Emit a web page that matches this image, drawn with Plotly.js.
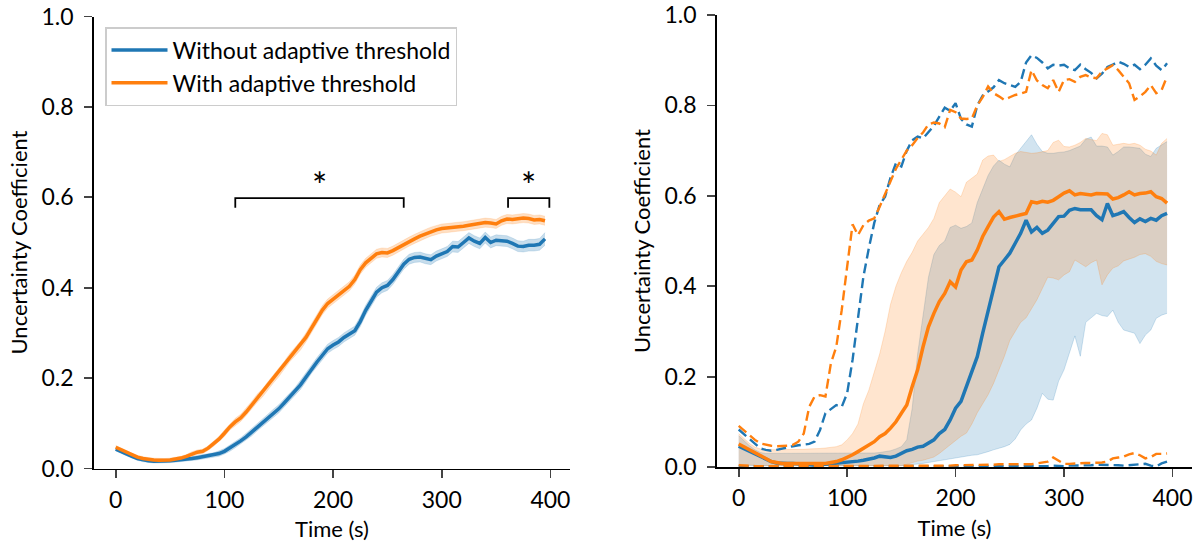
<!DOCTYPE html>
<html>
<head>
<meta charset="utf-8">
<script src="https://cdn.plot.ly/plotly-3.0.1.min.js"></script>
<style>html,body{margin:0;padding:0;background:#fff;}#chart{width:1199px;height:546px;}</style>
</head>
<body>
<div id="chart"></div>
<script>
// ---------- time grid (s) ----------
const time = [0,5,10,15,20,25,30,35,40,45,50,55,60,65,70,75,80,85,90,95,
  100,105,110,115,120,125,130,135,140,145,150,155,160,165,170,175,180,185,190,195,
  200,205,210,215,220,225,230,235,240,245,250,255,260,265,270,275,280,285,290,295,
  300,305,310,315,320,325,330,335,340,345,350,355,360,365,370,375,380,385,390,395];

// ---------- left panel: mean +/- SEM ----------
const leftWithout = [0.043,0.037,0.032,0.027,0.022,0.019,0.017,0.016,0.016,0.016,
  0.017,0.018,0.019,0.021,0.022,0.024,0.026,0.028,0.030,0.033,
  0.038,0.045,0.053,0.061,0.070,0.080,0.091,0.101,0.111,0.122,
  0.132,0.145,0.158,0.170,0.185,0.202,0.220,0.235,0.250,0.265,
  0.273,0.280,0.290,0.298,0.305,0.325,0.350,0.370,0.390,0.400,
  0.405,0.418,0.435,0.452,0.463,0.467,0.468,0.464,0.462,0.470,
  0.475,0.480,0.491,0.490,0.500,0.510,0.503,0.498,0.511,0.500,
  0.505,0.504,0.503,0.498,0.492,0.491,0.494,0.494,0.496,0.508];
const leftWith = [0.047,0.041,0.035,0.030,0.025,0.022,0.020,0.019,0.018,0.018,
  0.019,0.021,0.023,0.027,0.032,0.036,0.038,0.045,0.055,0.065,
  0.078,0.092,0.103,0.112,0.125,0.140,0.155,0.167,0.183,0.198,
  0.212,0.228,0.245,0.258,0.272,0.290,0.310,0.330,0.350,0.365,
  0.375,0.384,0.393,0.403,0.418,0.440,0.455,0.465,0.475,0.478,
  0.477,0.482,0.489,0.495,0.502,0.508,0.514,0.519,0.524,0.528,
  0.531,0.532,0.534,0.535,0.536,0.538,0.540,0.541,0.544,0.543,
  0.541,0.548,0.552,0.551,0.553,0.554,0.553,0.550,0.551,0.548];
const leftWithoutSem = [0.004,0.004,0.004,0.004,0.004,0.004,0.004,0.004,0.004,0.004,
  0.004,0.004,0.004,0.004,0.004,0.005,0.005,0.005,0.005,0.006,
  0.006,0.007,0.007,0.007,0.008,0.008,0.008,0.008,0.009,0.009,
  0.009,0.009,0.009,0.009,0.010,0.010,0.010,0.010,0.010,0.010,
  0.010,0.010,0.010,0.010,0.010,0.011,0.011,0.011,0.011,0.011,
  0.011,0.011,0.011,0.011,0.011,0.011,0.011,0.011,0.011,0.011,
  0.011,0.011,0.012,0.012,0.012,0.012,0.012,0.012,0.012,0.012,
  0.012,0.012,0.012,0.012,0.012,0.012,0.013,0.013,0.013,0.014];
const leftWithSem = [0.004,0.004,0.004,0.004,0.004,0.004,0.004,0.004,0.004,0.004,
  0.004,0.004,0.004,0.004,0.005,0.005,0.005,0.005,0.006,0.006,
  0.007,0.007,0.008,0.008,0.008,0.008,0.009,0.009,0.009,0.009,
  0.009,0.009,0.009,0.009,0.010,0.010,0.010,0.010,0.010,0.010,
  0.010,0.010,0.010,0.010,0.010,0.010,0.010,0.010,0.010,0.010,
  0.010,0.010,0.010,0.010,0.010,0.010,0.010,0.010,0.010,0.010,
  0.010,0.010,0.010,0.010,0.010,0.010,0.010,0.010,0.010,0.010,
  0.010,0.010,0.010,0.010,0.010,0.010,0.010,0.010,0.010,0.010];

// ---------- right panel ----------
const rWithoutMean = [0.046,0.040,0.034,0.028,0.023,0.017,0.012,0.009,0.008,0.008,
  0.008,0.007,0.006,0.005,0.004,0.005,0.006,0.007,0.008,0.009,
  0.010,0.012,0.013,0.015,0.017,0.020,0.024,0.023,0.021,0.024,
  0.030,0.036,0.039,0.044,0.046,0.052,0.060,0.074,0.083,0.104,
  0.130,0.145,0.178,0.207,0.244,0.296,0.347,0.399,0.443,0.458,
  0.473,0.495,0.517,0.546,0.520,0.530,0.517,0.524,0.540,0.554,
  0.555,0.568,0.572,0.569,0.569,0.569,0.556,0.547,0.583,0.556,
  0.560,0.565,0.552,0.541,0.549,0.543,0.550,0.546,0.556,0.561];
const rWithMean = [0.051,0.045,0.038,0.033,0.027,0.019,0.012,0.009,0.008,0.008,
  0.008,0.007,0.007,0.007,0.008,0.008,0.008,0.010,0.012,0.016,
  0.021,0.027,0.034,0.041,0.049,0.056,0.067,0.074,0.086,0.100,
  0.119,0.137,0.178,0.215,0.266,0.310,0.340,0.366,0.384,0.410,
  0.398,0.436,0.454,0.458,0.480,0.510,0.532,0.553,0.565,0.548,
  0.552,0.556,0.558,0.561,0.587,0.584,0.588,0.586,0.590,0.598,
  0.606,0.611,0.602,0.605,0.604,0.602,0.605,0.605,0.604,0.593,
  0.596,0.602,0.609,0.602,0.605,0.606,0.609,0.598,0.594,0.584];
const rWithoutHigh = [0.069,0.057,0.047,0.038,0.032,0.030,0.030,0.030,0.030,0.030,
  0.030,0.030,0.030,0.030,0.030,0.030,0.030,0.030,0.031,0.031,
  0.031,0.031,0.031,0.031,0.031,0.031,0.032,0.034,0.036,0.040,
  0.045,0.060,0.130,0.250,0.340,0.420,0.470,0.490,0.500,0.530,
  0.535,0.528,0.532,0.540,0.585,0.615,0.645,0.666,0.679,0.670,
  0.664,0.690,0.705,0.720,0.735,0.714,0.698,0.694,0.694,0.696,
  0.697,0.700,0.705,0.710,0.725,0.730,0.710,0.710,0.708,0.690,
  0.698,0.708,0.708,0.706,0.705,0.692,0.687,0.705,0.712,0.720];
const rWithoutLow = [0.003,0.003,0.002,0.002,0.002,0.002,0.002,0.002,0.002,0.002,
  0.002,0.002,0.002,0.002,0.002,0.002,0.002,0.002,0.002,0.002,
  0.002,0.002,0.002,0.002,0.002,0.002,0.002,0.002,0.002,0.002,
  0.003,0.004,0.005,0.006,0.008,0.010,0.012,0.014,0.016,0.019,
  0.020,0.022,0.024,0.026,0.027,0.030,0.034,0.038,0.041,0.045,
  0.050,0.062,0.082,0.095,0.104,0.130,0.163,0.150,0.148,0.190,
  0.215,0.250,0.290,0.245,0.320,0.330,0.340,0.335,0.333,0.347,
  0.320,0.303,0.300,0.296,0.273,0.292,0.303,0.329,0.336,0.340];
const rWithHigh = [0.074,0.062,0.052,0.044,0.040,0.038,0.038,0.038,0.038,0.038,
  0.038,0.039,0.039,0.040,0.040,0.041,0.042,0.043,0.045,0.049,
  0.060,0.074,0.095,0.140,0.170,0.210,0.250,0.300,0.360,0.400,
  0.430,0.455,0.475,0.500,0.515,0.530,0.550,0.585,0.600,0.615,
  0.608,0.598,0.630,0.640,0.648,0.679,0.688,0.690,0.676,0.680,
  0.687,0.694,0.698,0.696,0.694,0.695,0.698,0.700,0.718,0.723,
  0.709,0.708,0.712,0.718,0.727,0.725,0.722,0.738,0.735,0.712,
  0.714,0.716,0.714,0.716,0.712,0.703,0.699,0.690,0.716,0.727];
const rWithLow = [0.006,0.005,0.004,0.003,0.003,0.003,0.003,0.003,0.003,0.003,
  0.003,0.003,0.003,0.003,0.003,0.003,0.003,0.003,0.003,0.003,
  0.003,0.003,0.003,0.003,0.003,0.003,0.003,0.003,0.003,0.003,
  0.003,0.006,0.010,0.013,0.015,0.018,0.022,0.030,0.040,0.050,
  0.060,0.068,0.075,0.095,0.120,0.140,0.160,0.185,0.215,0.245,
  0.280,0.300,0.320,0.330,0.350,0.370,0.395,0.420,0.418,0.414,
  0.425,0.432,0.458,0.450,0.443,0.452,0.458,0.403,0.425,0.440,
  0.445,0.456,0.460,0.464,0.470,0.472,0.466,0.455,0.450,0.447];
const rWithoutMax = [0.083,0.073,0.063,0.052,0.041,0.038,0.036,0.038,0.041,0.043,
  0.046,0.048,0.049,0.051,0.056,0.082,0.119,0.128,0.137,0.133,
  0.163,0.237,0.333,0.421,0.484,0.540,0.580,0.598,0.640,0.672,
  0.665,0.700,0.723,0.731,0.727,0.740,0.755,0.775,0.795,0.788,
  0.805,0.770,0.758,0.753,0.800,0.822,0.832,0.840,0.856,0.849,
  0.845,0.841,0.852,0.895,0.911,0.905,0.895,0.882,0.890,0.888,
  0.890,0.882,0.878,0.890,0.880,0.872,0.860,0.870,0.885,0.890,
  0.897,0.892,0.885,0.890,0.880,0.890,0.904,0.888,0.878,0.893];
const rWithMax = [0.091,0.080,0.071,0.060,0.052,0.049,0.047,0.046,0.046,0.047,
  0.049,0.056,0.074,0.133,0.156,0.159,0.156,0.229,0.266,0.347,
  0.443,0.537,0.513,0.535,0.545,0.550,0.576,0.605,0.630,0.660,
  0.680,0.700,0.712,0.728,0.740,0.758,0.762,0.760,0.752,0.790,
  0.785,0.771,0.770,0.771,0.800,0.818,0.842,0.827,0.820,0.812,
  0.818,0.823,0.826,0.830,0.878,0.855,0.845,0.838,0.856,0.830,
  0.856,0.858,0.852,0.863,0.867,0.862,0.860,0.875,0.882,0.889,
  0.878,0.864,0.849,0.812,0.820,0.830,0.845,0.827,0.834,0.864];
const rWithoutMin = [0.002,0.002,0.002,0.002,0.001,0.001,0.001,0.001,0.001,0.001,
  0.001,0.001,0.001,0.001,0.001,0.001,0.001,0.001,0.001,0.001,
  0.001,0.001,0.001,0.001,0.001,0.001,0.001,0.001,0.001,0.001,
  0.001,0.001,0.001,0.001,0.001,0.001,0.001,0.001,0.001,0.001,
  0.001,0.001,0.001,0.001,0.001,0.001,0.001,0.001,0.001,0.001,
  0.001,0.001,0.001,0.001,0.001,0.002,0.002,0.002,0.003,0.002,
  0.002,0.003,0.003,0.003,0.003,0.004,0.005,0.005,0.004,0.005,
  0.004,0.003,0.004,0.005,0.005,0.007,0.003,0.001,0.008,0.012];
const rWithMin = [0.004,0.003,0.003,0.002,0.002,0.002,0.002,0.002,0.002,0.002,
  0.002,0.002,0.002,0.002,0.002,0.002,0.002,0.002,0.002,0.002,
  0.002,0.002,0.002,0.002,0.002,0.002,0.002,0.002,0.002,0.002,
  0.002,0.002,0.002,0.002,0.002,0.002,0.002,0.003,0.003,0.003,
  0.004,0.004,0.004,0.004,0.004,0.005,0.005,0.005,0.006,0.006,
  0.006,0.006,0.006,0.006,0.006,0.008,0.010,0.012,0.021,0.013,
  0.007,0.007,0.008,0.009,0.009,0.009,0.009,0.010,0.012,0.019,
  0.021,0.023,0.028,0.031,0.026,0.019,0.022,0.029,0.029,0.030];

// ---------- labels ----------
const seriesNames = ['Without adaptive threshold', 'With adaptive threshold'];
const xTicks = [0, 100, 200, 300, 400];
const yTicks = [0, 0.2, 0.4, 0.6, 0.8, 1.0];
const axisTitleX = 'Time (s)';
const axisTitleY = 'Uncertainty Coefficient';
const sigBrackets = [[110, 265], [361, 399]];

// ---------- styles ----------
const BLUE = '#1f77b4', ORANGE = '#ff7f0e';
const BLUE_F = 'rgba(31,119,180,0.2)', ORANGE_F = 'rgba(255,127,14,0.2)';
const FONT = 'Lato, "Noto Sans", sans-serif';

function add(a, b, s) { return a.map((v, i) => v + s * b[i]); }

const traces = [];
function band(x, hi, lo, fill, line, xa, ya) {
  traces.push({x: x, y: hi, xaxis: xa, yaxis: ya, mode: 'lines', line: {color: line, width: 1}, showlegend: false, hoverinfo: 'skip'});
  traces.push({x: x, y: lo, xaxis: xa, yaxis: ya, mode: 'lines', line: {color: line, width: 1}, fill: 'tonexty', fillcolor: fill, showlegend: false, hoverinfo: 'skip'});
}

// Left panel
band(time, add(leftWithout, leftWithoutSem, 1), add(leftWithout, leftWithoutSem, -1), 'rgba(31,119,180,0.25)', 'rgba(31,119,180,0.15)', 'x', 'y');
band(time, add(leftWith, leftWithSem, 1), add(leftWith, leftWithSem, -1), 'rgba(255,127,14,0.25)', 'rgba(255,127,14,0.15)', 'x', 'y');
traces.push({x: time, y: leftWithout, xaxis: 'x', yaxis: 'y', mode: 'lines', name: seriesNames[0], legendgroup: 'a', line: {color: BLUE, width: 3.5}});
traces.push({x: time, y: leftWith, xaxis: 'x', yaxis: 'y', mode: 'lines', name: seriesNames[1], legendgroup: 'b', line: {color: ORANGE, width: 3.5}});

// Right panel
band(time, rWithoutHigh, rWithoutLow, BLUE_F, 'rgba(31,119,180,0.2)', 'x2', 'y2');
band(time, rWithHigh, rWithLow, ORANGE_F, 'rgba(255,127,14,0.2)', 'x2', 'y2');
traces.push({x: time, y: rWithoutMean, xaxis: 'x2', yaxis: 'y2', mode: 'lines', showlegend: false, line: {color: BLUE, width: 3.5}});
traces.push({x: time, y: rWithMean, xaxis: 'x2', yaxis: 'y2', mode: 'lines', showlegend: false, line: {color: ORANGE, width: 3.5}});
traces.push({x: time, y: rWithoutMax, xaxis: 'x2', yaxis: 'y2', mode: 'lines', showlegend: false, line: {color: BLUE, width: 2.4, dash: '10px,5px'}});
traces.push({x: time, y: rWithMax, xaxis: 'x2', yaxis: 'y2', mode: 'lines', showlegend: false, line: {color: ORANGE, width: 2.4, dash: '10px,5px'}});
traces.push({x: time, y: rWithoutMin, xaxis: 'x2', yaxis: 'y2', mode: 'lines', showlegend: false, line: {color: BLUE, width: 2.4, dash: '10px,5px'}});
traces.push({x: time, y: rWithMin, xaxis: 'x2', yaxis: 'y2', mode: 'lines', showlegend: false, line: {color: ORANGE, width: 2.4, dash: '10px,5px'}});

const axisX = {
  range: [-20, 418], tickvals: xTicks, ticks: 'outside', ticklen: 8, tickwidth: 1.8,
  showline: true, linewidth: 1.8, linecolor: '#000', showgrid: false, zeroline: false,
  tickfont: {family: FONT, size: 23, color: '#000'}, ticklabelstandoff: 2,
  title: {text: axisTitleX, font: {family: FONT, size: 22, color: '#000'}, standoff: 10}
};
const axisY = {
  range: [0, 1], tickvals: yTicks, tickformat: '.1f', ticks: 'outside', ticklen: 8, tickwidth: 1.8,
  showline: true, linewidth: 1.8, linecolor: '#000', showgrid: false, zeroline: false,
  tickfont: {family: FONT, size: 23, color: '#000'}, ticklabelstandoff: 6,
  title: {text: axisTitleY, font: {family: FONT, size: 22, color: '#000'}, standoff: 8}
};

const shapes = sigBrackets.map(b => ({
  type: 'path', xref: 'x', yref: 'y',
  path: `M ${b[0]} 0.577 L ${b[0]} 0.598 L ${b[1]} 0.598 L ${b[1]} 0.577`,
  line: {color: '#000', width: 1.8}
}));
const annotations = sigBrackets.map(b => ({
  xref: 'x', yref: 'y', x: (b[0] + b[1]) / 2, y: 0.628, text: '*', showarrow: false,
  font: {family: FONT, size: 36, color: '#000'}, yanchor: 'middle'
}));

const layout = {
  width: 1199, height: 546,
  margin: {l: 0, r: 0, t: 0, b: 0},
  paper_bgcolor: '#fff', plot_bgcolor: '#fff',
  font: {family: FONT, color: '#000'},
  xaxis: Object.assign({}, axisX, {domain: [94/1199, 570/1199], anchor: 'y'}),
  yaxis: Object.assign({}, axisY, {domain: [(546-468.5)/546, (546-16.5)/546], anchor: 'x'}),
  xaxis2: Object.assign({}, axisX, {domain: [717/1199, 1192/1199], anchor: 'y2'}),
  yaxis2: Object.assign({}, axisY, {domain: [(546-467)/546, (546-15)/546], anchor: 'x2'}),
  showlegend: true,
  legend: {
    x: 105/1199, y: (546-27)/546, xanchor: 'left', yanchor: 'top',
    bgcolor: 'rgba(255,255,255,0.8)', bordercolor: '#cccccc', borderwidth: 1.5,
    font: {family: FONT, size: 23, color: '#000'},
    traceorder: 'grouped', tracegroupgap: 0, itemwidth: 56
  },
  shapes: shapes,
  annotations: annotations
};

Plotly.newPlot('chart', traces, layout, {displayModeBar: false, staticPlot: true});
</script>
</body>
</html>
